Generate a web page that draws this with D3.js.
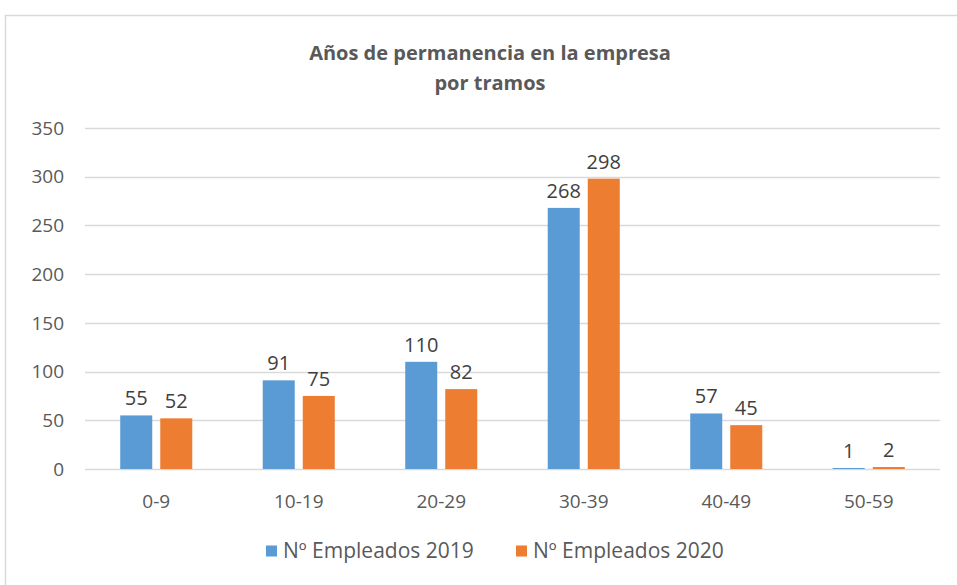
<!DOCTYPE html>
<html>
<head>
<meta charset="utf-8">
<script src="https://cdn.jsdelivr.net/npm/d3@7"></script>
<style>
  body { margin: 0; background: #fff; }
  svg text { font-family: "Open Sans", Lato, sans-serif; }
</style>
</head>
<body>
<div id="chart"></div>
<script>
var categories = ['0-9', '10-19', '20-29', '30-39', '40-49', '50-59'];
var values_2019 = [55, 91, 110, 268, 57, 1];
var values_2020 = [52, 75, 82, 298, 45, 2];
var series_names = ['Nº Empleados 2019', 'Nº Empleados 2020'];
var series_colors = ['#5b9bd5', '#ed7d31'];
var y_ticks = [0, 50, 100, 150, 200, 250, 300, 350];
var title_lines = ['Años de permanencia en la empresa', 'por tramos'];

let width = 957, height = 585;
let margin = {top: 128, right: 17, bottom: 116, left: 85};

let svg = d3.select('#chart').append('svg')
    .attr('width', width)
    .attr('height', height);

// chart frame
svg.append('rect')
    .attr('x', 5.5).attr('y', 15.5)
    .attr('width', 970).attr('height', 600)
    .attr('fill', '#fff')
    .attr('stroke', '#d9d9d9')
    .attr('stroke-width', 1.5);

let x = d3.scaleBand()
    .domain(categories)
    .range([margin.left, width - margin.right]);

let y = d3.scaleLinear()
    .domain([0, 350])
    .range([height - margin.bottom, margin.top]);

// two bars per group: width 32, gap 8, outer gap ~36
let series = d3.scaleBand()
    .domain([0, 1])
    .range([0, x.bandwidth()])
    .paddingInner(0.2)
    .paddingOuter(0.88);

// gridlines
svg.append('g')
    .selectAll('line')
    .data(y_ticks)
    .enter().append('line')
    .attr('x1', margin.left).attr('x2', width - margin.right)
    .attr('y1', function(d) { return Math.round(y(d)) + 0.5; })
    .attr('y2', function(d) { return Math.round(y(d)) + 0.5; })
    .attr('stroke', '#d9d9d9')
    .attr('stroke-width', 1.5);

// y tick labels
svg.append('g')
    .selectAll('text')
    .data(y_ticks)
    .enter().append('text')
    .attr('x', 64)
    .attr('y', function(d) { return y(d); })
    .attr('dy', '0.35em')
    .attr('text-anchor', 'end')
    .attr('font-size', 19)
    .attr('fill', '#595959')
    .text(function(d) { return d; });

// x labels
svg.append('g')
    .selectAll('text')
    .data(categories)
    .enter().append('text')
    .attr('x', function(d) { return x(d) + x.bandwidth() / 2; })
    .attr('y', 508)
    .attr('text-anchor', 'middle')
    .attr('font-size', 19)
    .attr('fill', '#595959')
    .text(function(d) { return d; });

// bars + labels
[values_2019, values_2020].forEach(function(vals, s) {
    let g = svg.append('g');
    g.selectAll('rect')
        .data(vals)
        .enter().append('rect')
        .attr('x', function(d, i) { return x(categories[i]) + series(s); })
        .attr('y', function(d) { return y(d); })
        .attr('width', series.bandwidth())
        .attr('height', function(d) { return y(0) - y(d); })
        .attr('fill', series_colors[s]);

    g.selectAll('text')
        .data(vals)
        .enter().append('text')
        .attr('x', function(d, i) { return x(categories[i]) + series(s) + series.bandwidth() / 2; })
        .attr('y', function(d) { return y(d) - 10; })
        .attr('text-anchor', 'middle')
        .attr('font-size', 20)
        .attr('fill', '#404040')
        .text(function(d) { return d; });
});

// title
svg.append('g')
    .selectAll('text')
    .data(title_lines)
    .enter().append('text')
    .attr('x', 490)
    .attr('y', function(d, i) { return 60 + i * 30; })
    .attr('text-anchor', 'middle')
    .attr('font-size', 20)
    .attr('font-weight', 'bold')
    .attr('fill', '#595959')
    .text(function(d) { return d; });

// legend
let legend_x = [266, 516];
let legend = svg.append('g')
    .selectAll('g')
    .data(series_names)
    .enter().append('g')
    .attr('transform', function(d, i) { return 'translate(' + legend_x[i] + ',551)'; });

legend.append('rect')
    .attr('x', 0).attr('y', -5.5)
    .attr('width', 11).attr('height', 11)
    .attr('fill', function(d, i) { return series_colors[i]; });

legend.append('text')
    .attr('x', 17)
    .attr('dy', '0.35em')
    .attr('font-size', 21)
    .attr('fill', '#595959')
    .text(function(d) { return d; });
</script>
</body>
</html>
